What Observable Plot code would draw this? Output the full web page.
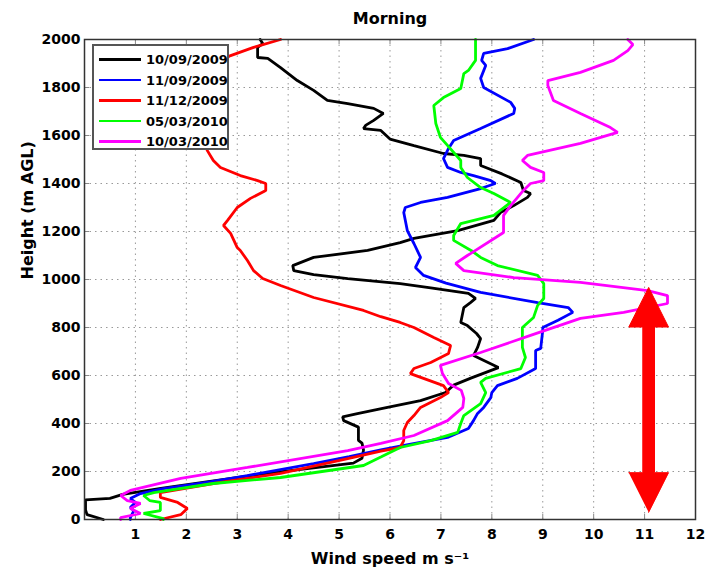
<!DOCTYPE html>
<html>
<head>
<meta charset="utf-8">
<script src="https://cdn.jsdelivr.net/npm/d3@7"></script>
<script src="https://cdn.jsdelivr.net/npm/@observablehq/plot@0.6"></script>
<style>
  html, body { margin: 0; padding: 0; background: #fff; }
  #wrap { position: relative; width: 716px; height: 571px; font-family: "DejaVu Sans", sans-serif; }
  #legend { position: absolute; left: 92px; top: 44px; width: 137px; height: 106px; border: 2px solid #555; background: #fff; box-sizing: border-box; }
  .row { position: absolute; left: 0; height: 20px; display: flex; align-items: center; }
  .swatch { width: 42px; height: 2.8px; margin-left: 5px; margin-right: 5px; }
  .lab { font-weight: bold; font-size: 13px; color: #000; }
</style>
</head>
<body>
<div id="wrap"></div>
<script>
// ---- data: [wind speed (m/s), height (m AGL)] ----
const seriesNames = ["10/09/2009", "11/09/2009", "11/12/2009", "05/03/2010", "10/03/2010"];
const seriesColors = ["#000000", "#0000ff", "#ff0000", "#00ff00", "#ff00ff"];

const p_10_09_2009 = [[0.37,0],[0.05,20],[0.02,40],[0.02,82],[0.5,88],[0.75,105],[1.5,130],[2.5,160],[3.5,190],[4.5,215],[5.28,235],[5.45,255],[5.48,290],[5.45,318],[5.38,330],[5.38,385],[5.09,412],[5.07,428],[5.36,441],[5.95,467],[6.6,495],[7.09,529],[7.25,560],[7.6,590],[8.13,633],[7.64,683],[7.72,717],[7.78,754],[7.7,775],[7.52,808],[7.39,821],[7.45,883],[7.58,904],[7.68,921],[7.54,942],[6.8,965],[6.2,983],[5.17,1004],[4.5,1020],[4.11,1037],[4.09,1058],[4.5,1092],[5.56,1121],[6.2,1154],[6.47,1171],[7.33,1204],[8.04,1246],[8.17,1279],[8.43,1308],[8.7,1342],[8.76,1358],[8.62,1371],[8.57,1404],[8.2,1440],[7.78,1475],[7.78,1504],[7.45,1517],[7.05,1525],[6.47,1558],[6.0,1585],[5.82,1621],[5.48,1629],[5.52,1642],[5.68,1663],[5.87,1692],[5.68,1713],[5.17,1733],[4.77,1746],[4.5,1788],[4.18,1829],[3.85,1883],[3.6,1921],[3.4,1925],[3.4,1967],[3.5,1983],[3.45,2000]];

const p_11_09_2009 = [[0.9,0],[0.9,8],[0.97,37],[0.9,50],[1.0,71],[0.9,87],[1.1,108],[1.55,129],[2.4,155],[3.2,183],[4.5,233],[5.2,262],[5.82,290],[6.3,310],[7.13,342],[7.54,379],[7.64,412],[7.72,442],[7.84,467],[7.98,508],[8.0,529],[8.11,558],[8.5,588],[8.86,629],[8.86,704],[8.96,713],[9.0,788],[9.0,800],[9.3,830],[9.59,863],[9.5,883],[8.9,904],[7.78,946],[7.1,985],[6.66,1017],[6.5,1050],[6.6,1092],[6.47,1150],[6.34,1204],[6.27,1279],[6.3,1300],[6.6,1321],[7.13,1342],[7.78,1379],[8.07,1400],[7.98,1412],[7.64,1433],[7.39,1446],[7.13,1467],[7.05,1504],[7.15,1546],[7.25,1579],[7.78,1629],[8.43,1692],[8.45,1713],[8.37,1738],[7.84,1800],[7.78,1838],[7.88,1892],[7.8,1913],[7.84,1942],[8.31,1962],[8.82,2000]];

const p_11_12_2009 = [[1.49,0],[1.89,20],[2.02,46],[1.83,71],[1.49,92],[1.49,112],[2.53,150],[3.85,192],[5.17,254],[5.82,285],[6.2,300],[6.27,329],[6.27,371],[6.34,404],[6.47,433],[6.6,467],[6.99,508],[7.15,529],[7.05,558],[6.4,608],[6.47,629],[6.8,654],[7.15,692],[7.19,725],[6.86,758],[6.47,800],[6.2,821],[5.82,845],[5.48,871],[4.5,925],[3.85,975],[3.5,1004],[3.32,1037],[3.2,1079],[3.06,1121],[3.0,1133],[2.87,1192],[2.73,1225],[2.81,1246],[3.0,1300],[3.26,1338],[3.56,1371],[3.56,1400],[3.4,1412],[3.06,1433],[2.67,1467],[2.53,1496],[2.41,1538],[2.3,1600],[2.2,1700],[2.2,1800],[2.4,1880],[2.87,1933],[3.32,1967],[3.85,2000]];

const p_05_03_2010 = [[1.55,0],[1.55,4],[1.16,25],[1.49,37],[1.49,71],[1.28,79],[1.16,100],[1.36,112],[2.53,150],[3.85,175],[5.48,225],[5.82,260],[6.2,300],[6.8,329],[7.33,363],[7.39,400],[7.45,433],[7.78,483],[7.88,529],[7.78,571],[7.88,588],[8.57,629],[8.66,675],[8.6,717],[8.6,800],[8.82,842],[8.9,892],[9.02,921],[9.02,983],[8.9,1017],[8.11,1058],[7.78,1092],[7.6,1120],[7.25,1163],[7.25,1183],[7.39,1233],[8.04,1267],[8.37,1321],[8.04,1358],[7.78,1383],[7.52,1425],[7.39,1467],[7.39,1496],[6.99,1592],[6.9,1650],[6.86,1725],[7.05,1758],[7.39,1796],[7.45,1858],[7.54,1871],[7.68,1913],[7.68,2000]];

const p_10_03_2010 = [[0.71,0],[0.71,8],[1.1,25],[0.9,46],[1.1,67],[0.84,79],[0.71,100],[0.9,121],[1.89,171],[3.2,217],[5.17,287],[5.82,317],[6.47,350],[7.13,412],[7.43,467],[7.45,504],[7.4,538],[7.15,567],[7.03,608],[6.99,642],[7.78,696],[8.76,767],[9.74,838],[10.59,863],[11.45,900],[11.45,933],[11.06,954],[9.74,988],[8.43,1008],[7.45,1037],[7.29,1067],[7.52,1100],[7.58,1108],[8.23,1196],[8.23,1267],[8.37,1308],[8.62,1371],[8.76,1400],[9.02,1412],[9.02,1446],[8.76,1467],[8.6,1496],[8.7,1517],[9.74,1567],[10.47,1613],[10.33,1633],[9.74,1692],[9.21,1746],[9.1,1808],[9.1,1829],[9.74,1863],[10.39,1913],[10.67,1954],[10.77,1979],[10.67,2000]];

const xTicks = [1,2,3,4,5,6,7,8,9,10,11,12];
const yTicks = [0,200,400,600,800,1000,1200,1400,1600,1800,2000];
const gridXTicks = [0,1,2,3,4,5,6,7,8,9,10,11,12];

// annotation: double-headed arrow (data units)
const arrowSpeed = 11.08;
const arrowBottom = 30;
const arrowTop = 967;

// ---- build ----
const profiles = [p_10_09_2009, p_11_09_2009, p_11_12_2009, p_05_03_2010, p_10_03_2010];
const rows = profiles.flatMap((p, i) => p.map(([s, h]) => ({speed: s, height: h, series: seriesNames[i]})));

const headHalf = 0.39, headLen = 165, shaftHalf = 0.115;
const arrowPoly = [
  [arrowSpeed, arrowBottom],
  [arrowSpeed + headHalf, arrowBottom + headLen],
  [arrowSpeed + shaftHalf, arrowBottom + headLen],
  [arrowSpeed + shaftHalf, arrowTop - headLen],
  [arrowSpeed + headHalf, arrowTop - headLen],
  [arrowSpeed, arrowTop],
  [arrowSpeed - headHalf, arrowTop - headLen],
  [arrowSpeed - shaftHalf, arrowTop - headLen],
  [arrowSpeed - shaftHalf, arrowBottom + headLen],
  [arrowSpeed - headHalf, arrowBottom + headLen]
];

const W = 716, H = 571, mL = 84, mR = 21, mT = 39, mB = 52;
const tickLenX = 12 * 5 / (W - mL - mR);
const tickLenY = 2000 * 5 / (H - mT - mB);

const chart = Plot.plot({
  width: W, height: H,
  marginLeft: mL, marginRight: mR, marginTop: mT, marginBottom: mB,
  x: {domain: [0, 12], label: null},
  y: {domain: [0, 2000], label: null},
  color: {domain: seriesNames, range: seriesColors},
  style: {fontFamily: "DejaVu Sans", fontWeight: "bold", fontSize: "14px", color: "#000", background: "#fff"},
  marks: [
    Plot.gridX(gridXTicks, {stroke: "#999", strokeOpacity: 1, strokeDasharray: "1.5,4"}),
    Plot.gridY(yTicks, {stroke: "#999", strokeOpacity: 1, strokeDasharray: "1.5,4"}),
    Plot.ruleX(xTicks, {y1: 0, y2: tickLenY, stroke: "#888"}),
    Plot.ruleX(xTicks, {y1: 2000, y2: 2000 - tickLenY, stroke: "#888"}),
    Plot.ruleY(yTicks, {x1: 0, x2: tickLenX, stroke: "#888"}),
    Plot.ruleY(yTicks, {x1: 12, x2: 12 - tickLenX, stroke: "#888"}),
    Plot.axisX(xTicks, {tickSize: 0, tickPadding: 10, fontSize: 14, fontWeight: "bold", tickFormat: d => String(d)}),
    Plot.axisY(yTicks, {tickSize: 0, tickPadding: 4, fontSize: 14, fontWeight: "bold", tickFormat: d => String(d)}),
    Plot.line(rows, {x: "speed", y: "height", z: "series", stroke: "series", strokeWidth: 2.8, strokeLinejoin: "miter"}),
    Plot.line(arrowPoly, {x: d => d[0], y: d => d[1], fill: "#ff0000", stroke: "#ff0000", strokeWidth: 1}),
    Plot.frame({stroke: "#333", strokeWidth: 1.5}),
    Plot.text(["Morning"], {frameAnchor: "top", lineAnchor: "middle", dy: -21, fontSize: 16, fontWeight: "bold"}),
    Plot.text(["Wind speed m s\u207B\u00B9"], {frameAnchor: "bottom", lineAnchor: "middle", dy: 39, fontSize: 16, fontWeight: "bold"}),
    Plot.text(["Height (m AGL)"], {frameAnchor: "left", lineAnchor: "middle", dx: -57, rotate: -90, fontSize: 16, fontWeight: "bold"})
  ]
});

const wrap = document.getElementById("wrap");
wrap.appendChild(chart);

// legend
const legend = document.createElement("div");
legend.id = "legend";
const rowTops = [4, 24.5, 45, 65.5, 86];
seriesNames.forEach((name, i) => {
  const r = document.createElement("div");
  r.className = "row";
  r.style.top = (rowTops[i] - 0.5) + "px";
  const sw = document.createElement("div");
  sw.className = "swatch";
  sw.style.background = seriesColors[i];
  const lb = document.createElement("span");
  lb.className = "lab";
  lb.textContent = name;
  r.appendChild(sw);
  r.appendChild(lb);
  legend.appendChild(r);
});
wrap.appendChild(legend);
</script>
</body>
</html>
